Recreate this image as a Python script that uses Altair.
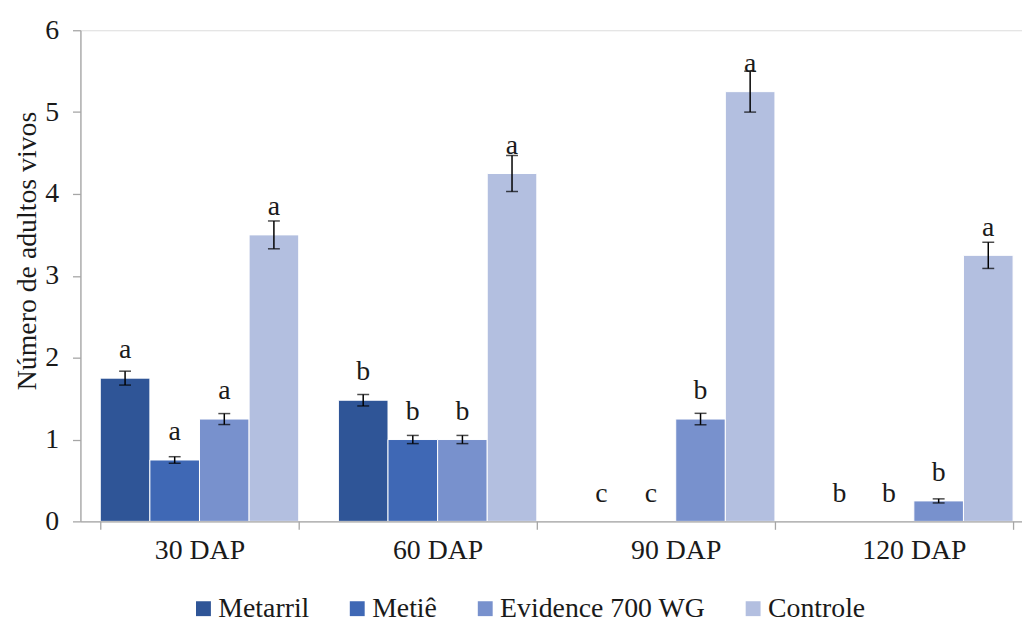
import altair as alt
import pandas as pd

groups = ["30 DAP", "60 DAP", "90 DAP", "120 DAP"]
series = ["Metarril", "Metiê", "Evidence 700 WG", "Controle"]

metarril = [1.75, 1.48, 0.0, 0.0]
metie = [0.75, 1.00, 0.0, 0.0]
evidence = [1.25, 1.00, 1.25, 0.25]
controle = [3.50, 4.25, 5.25, 3.25]

err_metarril = [0.085, 0.07, 0.0, 0.0]
err_metie = [0.04, 0.05, 0.0, 0.0]
err_evidence = [0.067, 0.05, 0.07, 0.025]
err_controle = [0.17, 0.22, 0.25, 0.16]

let_metarril = ["a", "b", "c", "b"]
let_metie = ["a", "b", "c", "b"]
let_evidence = ["a", "b", "b", "b"]
let_controle = ["a", "a", "a", "a"]

colors = ["#2f5597", "#3f68b5", "#7891cd", "#b3bfe0"]

FONT = "Liberation Serif"
FS = 28
AXIS_GRAY = "#a6a6a6"
TEXT = "#1a1a1a"

rows = []
for s, vals, errs, lets in [
    ("Metarril", metarril, err_metarril, let_metarril),
    ("Metiê", metie, err_metie, let_metie),
    ("Evidence 700 WG", evidence, err_evidence, let_evidence),
    ("Controle", controle, err_controle, let_controle),
]:
    for g, v, e, l in zip(groups, vals, errs, lets):
        rows.append({"group": g, "series": s, "mean": v, "err": e,
                     "low": v - e, "high": v + e, "letter": l})
df = pd.DataFrame(rows)

x_enc = alt.X(
    "group:N", sort=groups,
    scale=alt.Scale(paddingInner=1 / 6, paddingOuter=1 / 12, range=[0, 960]),
    axis=alt.Axis(title=None, labelAngle=0, tickBand="extent", tickSize=8,
                  labelPadding=7, domainColor=AXIS_GRAY, tickColor=AXIS_GRAY,
                  labelFontSize=FS, labelFont=FONT, labelColor=TEXT,
                  domainWidth=1.3, tickWidth=1.3, zindex=1),
)
xo_enc = alt.XOffset("series:N", sort=series,
                     scale=alt.Scale(paddingInner=0, paddingOuter=0))
y_scale = alt.Scale(domain=[0, 6], nice=False)

base = alt.Chart(df).encode(x=x_enc, xOffset=xo_enc)

bars = base.transform_filter("datum.mean > 0").mark_bar(
    stroke="white", strokeWidth=1).encode(
    y=alt.Y("mean:Q", scale=y_scale,
            axis=alt.Axis(values=[0, 1, 2, 3, 4, 5, 6], format="d", grid=False,
                          tickSize=8, labelPadding=14, domainColor=AXIS_GRAY,
                          tickColor=AXIS_GRAY, labelFontSize=FS, labelFont=FONT,
                          labelColor=TEXT, domainWidth=1.3, tickWidth=1.3,
                          zindex=1,
                          title="Número de adultos vivos", titleFont=FONT,
                          titleFontSize=FS, titleFontWeight="normal",
                          titleColor=TEXT, titleX=-45, titleY=222,
                          titleBaseline="alphabetic")),
    color=alt.Color("series:N", sort=series,
                    scale=alt.Scale(domain=series, range=colors),
                    legend=alt.Legend(title=None, orient="none", direction="horizontal",
                                      legendX=110, legendY=569, padding=0,
                                      symbolType="square", symbolSize=225,
                                      symbolStrokeWidth=0, labelFont=FONT,
                                      labelFontSize=FS, labelColor=TEXT,
                                      labelLimit=0, labelOffset=1,
                                      columnPadding=34)),
)

eb = base.transform_filter("datum.err > 0")
rule = eb.mark_rule(color="black", strokeWidth=1.5).encode(
    y=alt.Y("low:Q", scale=y_scale), y2="high:Q")
cap_lo = eb.mark_tick(color="black", size=12, thickness=1.5).encode(
    y=alt.Y("low:Q", scale=y_scale))
cap_hi = eb.mark_tick(color="black", size=12, thickness=1.5).encode(
    y=alt.Y("high:Q", scale=y_scale))

letters = base.mark_text(font=FONT, fontSize=FS, color=TEXT, dy=-20,
                         baseline="alphabetic", align="center").encode(
    y=alt.Y("mean:Q", scale=y_scale), text="letter:N")

chart = alt.layer(bars, rule, cap_lo, cap_hi, letters).properties(
    width=949, height=495,
    autosize=alt.AutoSizeParams(type="none"),
    padding={"left": 73, "top": 20, "right": 0, "bottom": 100},
).configure_view(stroke=None).configure(font=FONT)

chart.save("out.html", embed_options={"renderer": "svg", "actions": False})
